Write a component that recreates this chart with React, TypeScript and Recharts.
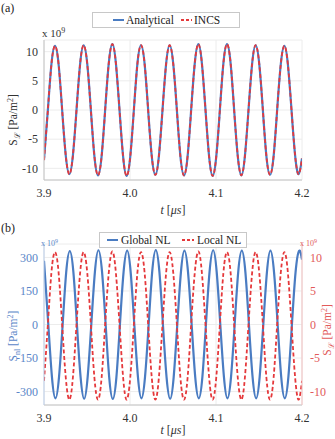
import React from "react";
import { LineChart, Line, XAxis, YAxis, CartesianGrid } from "recharts";

// time samples (µs) for panel (a) series and Local NL
const tA = [3.9, 3.9045, 3.9086, 3.9128, 3.917, 3.9211, 3.9253, 3.9295, 3.9336, 3.9378, 3.942, 3.9461, 3.9503, 3.9545, 3.9586, 3.9628, 3.967, 3.9711, 3.9753, 3.9795, 3.9836, 3.9878, 3.992, 3.9961, 4.0003, 4.0045, 4.0086, 4.0128, 4.017, 4.0211, 4.0253, 4.0295, 4.0336, 4.0378, 4.042, 4.0461, 4.0503, 4.0545, 4.0586, 4.0628, 4.067, 4.0711, 4.0753, 4.0795, 4.0836, 4.0878, 4.092, 4.0961, 4.1003, 4.1045, 4.1086, 4.1128, 4.117, 4.1211, 4.1253, 4.1295, 4.1336, 4.1378, 4.142, 4.1461, 4.1503, 4.1545, 4.1586, 4.1628, 4.167, 4.1711, 4.1753, 4.1795, 4.1836, 4.1878, 4.192, 4.1961, 4.2];

// S_L (x1e9 Pa/m^2)
const analytical = [-8.5,
  0, 7.8, 11.0, 7.8, 0, -7.8, -11.0, -7.8,
  0, 7.9, 11.1, 7.9, 0, -7.9, -11.2, -7.9,
  0, 8.0, 11.3, 8.0, 0, -8.0, -11.3, -8.0,
  0, 7.9, 11.1, 7.9, 0, -7.9, -11.1, -7.9,
  0, 7.9, 11.1, 7.9, 0, -7.9, -11.2, -7.9,
  0, 8.0, 11.3, 8.0, 0, -8.0, -11.3, -8.0,
  0, 8.0, 11.3, 8.0, 0, -7.9, -11.2, -7.9,
  0, 7.9, 11.1, 7.9, 0, -7.9, -11.1, -7.9,
  0, 7.8, 11.0, 7.8, 0, -7.8, -11.0,
  -8.3];

const incs = [-8.6,
  0, 7.8, 11.0, 7.8, 0, -7.8, -11.0, -7.8,
  0, 7.9, 11.1, 7.9, 0, -7.9, -11.2, -7.9,
  0, 8.0, 11.3, 8.0, 0, -8.0, -11.3, -8.0,
  0, 7.9, 11.1, 7.9, 0, -7.9, -11.1, -7.9,
  0, 7.9, 11.1, 7.9, 0, -7.9, -11.2, -7.9,
  0, 8.0, 11.3, 8.0, 0, -8.0, -11.3, -8.0,
  0, 8.0, 11.3, 8.0, 0, -7.9, -11.2, -7.9,
  0, 7.9, 11.1, 7.9, 0, -7.9, -11.1, -7.9,
  0, 7.8, 11.0, 7.8, 0, -7.8, -11.0,
  -8.3];

const localNL = [-8.4,
  0, 7.7, 10.8, 7.7, 0, -7.9, -11.2, -7.9,
  0, 7.7, 10.8, 7.7, 0, -7.9, -11.2, -7.9,
  0, 7.7, 10.9, 7.7, 0, -7.9, -11.2, -7.9,
  0, 7.7, 10.8, 7.7, 0, -7.9, -11.2, -7.9,
  0, 7.7, 10.8, 7.7, 0, -7.9, -11.2, -7.9,
  0, 7.7, 10.9, 7.7, 0, -7.9, -11.2, -7.9,
  0, 7.7, 10.8, 7.7, 0, -7.9, -11.2, -7.9,
  0, 7.7, 10.8, 7.7, 0, -7.9, -11.2, -7.9,
  0, 7.7, 10.8, 7.7, 0, -7.9, -11.2,
  -8.4];

// time samples (µs) for Global NL
const tB = [3.9, 3.905, 3.9092, 3.9133, 3.9175, 3.9217, 3.9258, 3.93, 3.9342, 3.9383, 3.9425, 3.9467, 3.9508, 3.955, 3.9592, 3.9633, 3.9675, 3.9717, 3.9758, 3.98, 3.9842, 3.9883, 3.9925, 3.9967, 4.0008, 4.005, 4.0092, 4.0133, 4.0175, 4.0217, 4.0258, 4.03, 4.0342, 4.0383, 4.0425, 4.0467, 4.0508, 4.055, 4.0592, 4.0633, 4.0675, 4.0717, 4.0758, 4.08, 4.0842, 4.0883, 4.0925, 4.0967, 4.1008, 4.105, 4.1092, 4.1133, 4.1175, 4.1217, 4.1258, 4.13, 4.1342, 4.1383, 4.1425, 4.1467, 4.1508, 4.155, 4.1592, 4.1633, 4.1675, 4.1717, 4.1758, 4.18, 4.1842, 4.1883, 4.1925, 4.1967, 4.2];

// S_nl (x1e9 Pa/m^2)
const globalNL = [285,
  0, -233, -330, -233, 0, 233, 328, 233,
  0, -233, -332, -233, 0, 235, 332, 235,
  0, -235, -333, -235, 0, 233, 330, 233,
  0, -233, -330, -233, 0, 235, 333, 235,
  0, -235, -332, -235, 0, 233, 330, 233,
  0, -233, -330, -233, 0, 235, 332, 235,
  0, -233, -330, -233, 0, 233, 330, 233,
  0, -233, -330, -233, 0, 233, 330, 233,
  0, -233, -330, -233, 0, 233, 330,
  290];

const xTicks = [3.9, 4.0, 4.1, 4.2];
const yTicksL = [-10, -5, 0, 5, 10];
const yTicksNL = [-300, -150, 0, 150, 300];

const toData = (ts: number[], vs: number[]) => ts.map((t, i) => ({ t, v: vs[i] }));
const dAnalytical = toData(tA, analytical);
const dIncs = toData(tA, incs);
const dLocal = toData(tA, localNL);
const dGlobal = toData(tB, globalNL);

const BLUE = "#4a7cc2";
const RED = "#e5383b";
const BLUE_TXT = "#5a86c8";
const RED_TXT = "#e25b5b";
const FONT = "Liberation Serif";
const TICK_DARK = { fill: "#333", fontSize: 12, fontFamily: FONT };

export default function App() {
  return (
    <div style={{ position: "absolute", left: 0, top: 0, width: 335, height: 439, background: "#fff", fontFamily: FONT }}>
      <div style={{ position: "absolute", left: 0, top: 0 }}>
        <LineChart width={335} height={220} margin={{ top: 40, right: 33, bottom: 10, left: 14 }}>
          <CartesianGrid stroke="#ececec" />
          <XAxis type="number" dataKey="t" domain={[3.9, 4.2]} ticks={xTicks} allowDataOverflow
            tickFormatter={(v: number) => v.toFixed(1)} tick={TICK_DARK} tickLine={false}
            axisLine={{ stroke: "#c4c4c4" }} height={30} />
          <YAxis type="number" dataKey="v" domain={[-12, 12]} ticks={yTicksL} allowDataOverflow
            tick={TICK_DARK} tickLine={false} tickSize={4} axisLine={{ stroke: "#c4c4c4" }} width={30} />
          <Line data={dAnalytical} dataKey="v" type="natural" stroke={BLUE} strokeWidth={2.2} dot={false} isAnimationActive={false} />
          <Line data={dIncs} dataKey="v" type="natural" stroke={RED} strokeWidth={1.8} strokeDasharray="4 2.5" dot={false} isAnimationActive={false} />
        </LineChart>
      </div>
      <div style={{ position: "absolute", left: 0, top: 220 }}>
        <LineChart width={335} height={219} margin={{ top: 24, right: 0, bottom: 4, left: 14 }}>
          <CartesianGrid stroke="#ececec" yAxisId="left" />
          <XAxis type="number" dataKey="t" domain={[3.9, 4.2]} ticks={xTicks} allowDataOverflow
            tickFormatter={(v: number) => v.toFixed(1)} tick={TICK_DARK} tickLine={false}
            axisLine={{ stroke: "#c4c4c4" }} height={30} />
          <YAxis yAxisId="left" type="number" dataKey="v" domain={[-360, 360]} ticks={yTicksNL} allowDataOverflow
            tick={{ fill: BLUE_TXT, fontSize: 12, fontFamily: FONT }} tickLine={false} tickSize={4}
            axisLine={{ stroke: "#b9cce8" }} width={30} />
          <YAxis yAxisId="right" orientation="right" type="number" dataKey="v" domain={[-12, 12]} ticks={yTicksL} allowDataOverflow
            tick={{ fill: RED_TXT, fontSize: 12, fontFamily: FONT }} tickLine={false} tickSize={6}
            axisLine={{ stroke: "#f2c0c0" }} width={33} />
          <Line yAxisId="left" data={dGlobal} dataKey="v" type="natural" stroke={BLUE} strokeWidth={2.2} dot={false} isAnimationActive={false} />
          <Line yAxisId="right" data={dLocal} dataKey="v" type="natural" stroke={RED} strokeWidth={1.8} strokeDasharray="4 2.5" dot={false} isAnimationActive={false} />
        </LineChart>
      </div>
      <svg width={335} height={439} style={{ position: "absolute", left: 0, top: 0, pointerEvents: "none" }} fontFamily={FONT}>
        <text x={1} y={12} fontSize={12} fill="#222">(a)</text>
        <text x={1} y={232} fontSize={12} fill="#222">(b)</text>

        <text x={42} y={37} fontSize={11} fill="#333">x 10<tspan dy={-4} fontSize={8}>9</tspan></text>
        <text x={41} y={246} fontSize={8} fill={BLUE_TXT}>x 10<tspan dy={-3} fontSize={6}>9</tspan></text>
        <text x={300} y={246} fontSize={8} fill={RED_TXT}>x 10<tspan dy={-3} fontSize={6}>9</tspan></text>

        <text transform="rotate(-90, 17, 120)" x={17} y={120} textAnchor="middle" fontSize={11.5} fill="#333">
          S<tspan dy={3} fontSize={8}>ℒ</tspan><tspan dy={-3}> [Pa/m</tspan><tspan dy={-4} fontSize={8}>2</tspan><tspan dy={4}>]</tspan>
        </text>
        <text transform="rotate(-90, 17, 336)" x={17} y={336} textAnchor="middle" fontSize={11.5} fill={BLUE_TXT}>
          S<tspan dy={3} fontSize={8}>nl</tspan><tspan dy={-3}> [Pa/m</tspan><tspan dy={-4} fontSize={8}>2</tspan><tspan dy={4}>]</tspan>
        </text>
        <text transform="rotate(-90, 331, 330)" x={331} y={330} textAnchor="middle" fontSize={11.5} fill={RED_TXT}>
          S<tspan dy={3} fontSize={8}>ℒ</tspan><tspan dy={-3}> [Pa/m</tspan><tspan dy={-4} fontSize={8}>2</tspan><tspan dy={4}>]</tspan>
        </text>

        <text x={173} y={214} textAnchor="middle" fontSize={12} fill="#333">
          <tspan fontStyle="italic">t</tspan> [<tspan fontStyle="italic">μs</tspan>]
        </text>
        <text x={173} y={434} textAnchor="middle" fontSize={12} fill="#333">
          <tspan fontStyle="italic">t</tspan> [<tspan fontStyle="italic">μs</tspan>]
        </text>

        <rect x={92.5} y={12.5} width={147} height={15} fill="#fff" stroke="#c8c8c8" />
        <line x1={113} x2={124} y1={20} y2={20} stroke={BLUE} strokeWidth={2} />
        <text x={126} y={24} fontSize={11.5} fill="#222">Analytical</text>
        <line x1={181} x2={192} y1={20} y2={20} stroke={RED} strokeWidth={1.8} strokeDasharray="3 2" />
        <text x={194} y={24} fontSize={11.5} fill="#222">INCS</text>

        <rect x={99.5} y={232.5} width={147} height={15} fill="#fff" stroke="#c8c8c8" />
        <line x1={107} x2={118} y1={240} y2={240} stroke={BLUE} strokeWidth={2} />
        <text x={121} y={244} fontSize={11.5} fill="#222">Global NL</text>
        <line x1={182} x2={194} y1={240} y2={240} stroke={RED} strokeWidth={1.8} strokeDasharray="3 2" />
        <text x={197} y={244} fontSize={11.5} fill="#222">Local NL</text>
      </svg>
    </div>
  );
}
